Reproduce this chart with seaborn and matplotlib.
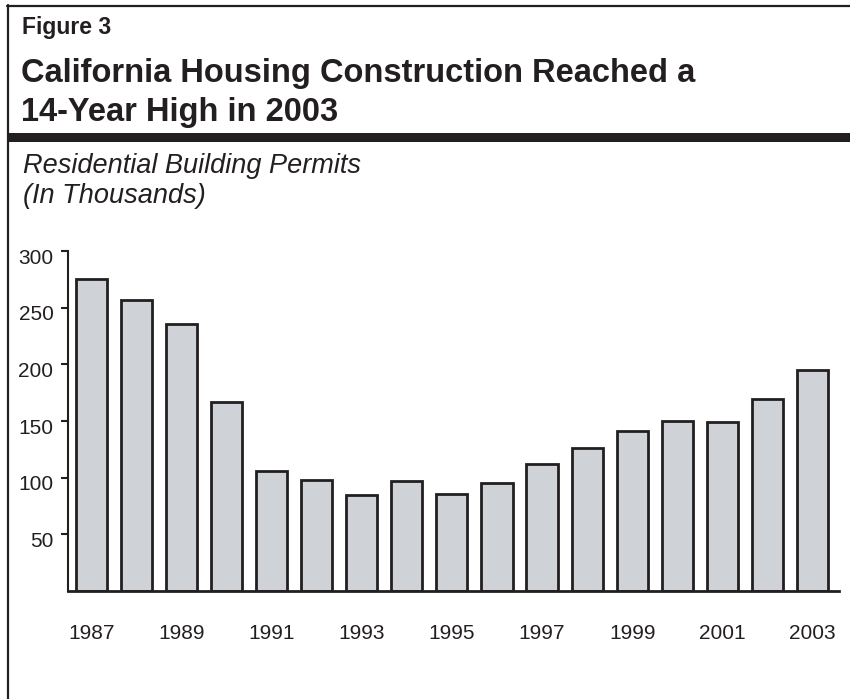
import matplotlib
matplotlib.use("Agg")
import matplotlib.pyplot as plt
import matplotlib.transforms as mtransforms
from matplotlib.lines import Line2D
from matplotlib.patches import Rectangle
import seaborn as sns
import pandas as pd

# Residential building permits, thousands
years = [str(y) for y in range(1987, 2004)]
permits = [275, 257, 236, 167, 106, 98, 85, 97, 86, 95, 112, 126, 141, 150, 149, 169, 195]
y_ticks = [50, 100, 150, 200, 250, 300]
x_label_years = ["1987", "1989", "1991", "1993", "1995", "1997", "1999", "2001", "2003"]

fig_label = "Figure 3"
title_lines = ["California Housing Construction Reached a", "14-Year High in 2003"]
subtitle_lines = ["Residential Building Permits", "(In Thousands)"]

sns.set_theme(style="white")
plt.rcParams["font.family"] = ["Liberation Sans", "DejaVu Sans"]

INK = "#231f20"
W, H = 850, 699
fig = plt.figure(figsize=(W / 100, H / 100), dpi=100)
fig.patch.set_facecolor("white")


def fx(px):
    return px / W


def fy(py):
    return 1 - py / H


# frame: left rule, top rule, heavy band under the heading
fig.add_artist(Line2D([fx(7.5), fx(7.5)], [fy(5), 0], color=INK, lw=1.6,
                      transform=fig.transFigure))
fig.add_artist(Line2D([fx(6.5), 1], [fy(6), fy(6)], color=INK, lw=1.6,
                      transform=fig.transFigure))
fig.add_artist(Rectangle((fx(6.5), fy(142)), 1 - fx(6.5), (142 - 133) / H,
                         transform=fig.transFigure, color=INK, lw=0))

fig.text(fx(22), fy(34), fig_label, fontsize=16.5, fontweight="bold",
         color=INK, va="baseline", ha="left")
fig.text(fx(21), fy(82), title_lines[0], fontsize=23.5, fontweight="bold",
         color=INK, va="baseline", ha="left")
fig.text(fx(21), fy(121), title_lines[1], fontsize=23.5, fontweight="bold",
         color=INK, va="baseline", ha="left")
fig.text(fx(23), fy(173), subtitle_lines[0], fontsize=19.5, style="italic",
         color=INK, va="baseline", ha="left")
fig.text(fx(23), fy(203), subtitle_lines[1], fontsize=19.5, style="italic",
         color=INK, va="baseline", ha="left")

ax = fig.add_axes([fx(68), 1 - 591 / H, (839 - 68) / W, (591 - 251) / H])
df = pd.DataFrame({"year": years, "permits": permits})
sns.barplot(data=df, x="year", y="permits", color="#cfd2d6", width=0.69,
            edgecolor=INK, linewidth=2.0, saturation=1, ax=ax)
for p in ax.patches:
    p.set_facecolor("#cfd2d6")

ax.set_xlim(-0.52, 16.59)
ax.set_ylim(0, 300)
ax.set_xlabel("")
ax.set_ylabel("")

ax.set_yticks(y_ticks)
ax.set_yticklabels([str(v) for v in y_ticks], fontsize=15, color=INK)
ax.tick_params(axis="y", direction="out", length=5, width=1.5, color=INK,
               pad=5.5, left=True)
# value labels sit a few pixels below their tick marks
shift = mtransforms.ScaledTranslation(0, -5 / 100, fig.dpi_scale_trans)
for lbl in ax.get_yticklabels():
    lbl.set_transform(lbl.get_transform() + shift)

pos = [years.index(y) for y in x_label_years]
ax.set_xticks(pos)
ax.set_xticklabels(x_label_years, fontsize=15, color=INK)
ax.tick_params(axis="x", length=0, pad=24)

for side in ("top", "right"):
    ax.spines[side].set_visible(False)
ax.spines["left"].set_color(INK)
ax.spines["left"].set_linewidth(1.5)
ax.spines["bottom"].set_color(INK)
ax.spines["bottom"].set_linewidth(2.0)
ax.set_facecolor("none")

fig.savefig("out.png", dpi=100, facecolor="white")
